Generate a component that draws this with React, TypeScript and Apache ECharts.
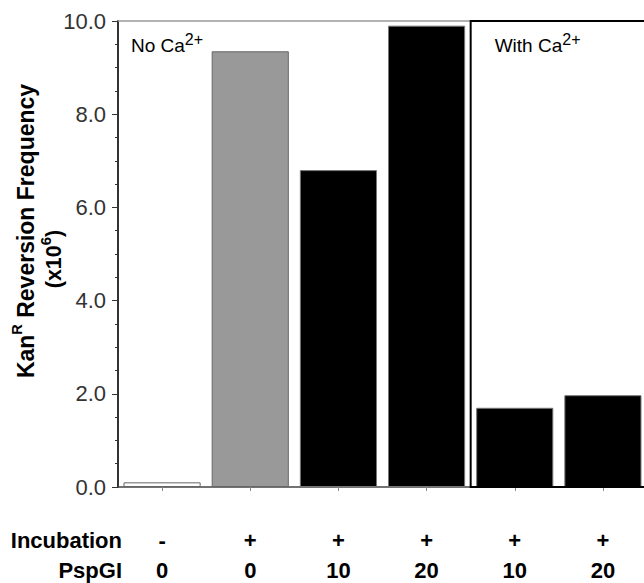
import React, { useEffect, useRef } from "react";
import * as echarts from "echarts";

const categories = ["No incubation", "Incubated", "PspGI 10", "PspGI 20", "PspGI 10 + Ca", "PspGI 20 + Ca"];
const frequency = [0.1, 9.35, 6.8, 9.9, 1.7, 1.97];
const incubationRow = ["-", "+", "+", "+", "+", "+"];
const pspgiRow = ["0", "0", "10", "20", "10", "20"];
const yTicks = [0, 2, 4, 6, 8, 10];
const caStartIndex = 4;

const barFills = ["#ffffff", "#999999", "#000000", "#000000", "#000000", "#000000"];
const FONT = '"Liberation Sans", Arial, Helvetica, sans-serif';

export default function App() {
  const ref = useRef<HTMLDivElement>(null);
  useEffect(() => {
    if (!ref.current) return;
    const chart = echarts.init(ref.current, null, { renderer: "svg" });
    const gridLeft = 118;
    const gridTop = 21;
    const gridHeight = 466;
    const option: any = {
      animation: false,
      backgroundColor: "#ffffff",
      textStyle: { fontFamily: FONT },
      grid: {
        left: gridLeft,
        top: gridTop,
        width: 529,
        height: gridHeight,
        containLabel: false,
        outerBoundsMode: "none",
      },
      xAxis: [
        {
          type: "category",
          data: categories,
          position: "bottom",
          axisLine: { lineStyle: { color: "#444", width: 1.5 } },
          axisTick: { show: true, alignWithLabel: true, length: 4, lineStyle: { color: "#888" } },
          axisLabel: {
            margin: 38,
            interval: 0,
            formatter: (_v: string, i: number) => `{a|${incubationRow[i]}}\n{b|${pspgiRow[i]}}`,
            rich: {
              a: { fontSize: 22, fontWeight: "bold", lineHeight: 30, color: "#000", fontFamily: FONT },
              b: { fontSize: 22, fontWeight: "bold", lineHeight: 30, color: "#000", fontFamily: FONT },
            },
          },
          splitLine: { show: false },
        },
        {
          type: "category",
          data: categories,
          position: "top",
          axisLine: { lineStyle: { color: "#999", width: 1.5 } },
          axisTick: { show: false },
          axisLabel: { show: false },
        },
      ],
      yAxis: {
        type: "value",
        min: yTicks[0],
        max: yTicks[yTicks.length - 1],
        interval: yTicks[1] - yTicks[0],
        axisLine: { show: true, lineStyle: { color: "#333", width: 2 } },
        axisTick: { show: true, length: 6, lineStyle: { color: "#333" } },
        minorTick: { show: true, splitNumber: 4, length: 3, lineStyle: { color: "#333" } },
        splitLine: { show: false },
        axisLabel: {
          margin: 12,
          fontSize: 22,
          color: "#333",
          fontFamily: FONT,
          formatter: (v: number) => v.toFixed(1),
        },
      },
      series: [
        {
          type: "bar",
          xAxisIndex: 0,
          barWidth: "87.5%",
          data: frequency.map((v, i) => ({
            value: v,
            itemStyle: { color: barFills[i], borderColor: i < 2 ? "#666" : "#777", borderWidth: 1 },
          })),
        },
      ],
    };
    chart.setOption(option);

    const p0 = chart.convertToPixel({ gridIndex: 0 }, [caStartIndex - 1, 0]) as number[];
    const p1 = chart.convertToPixel({ gridIndex: 0 }, [caStartIndex, 0]) as number[];
    const pTop = chart.convertToPixel({ gridIndex: 0 }, [caStartIndex, yTicks[yTicks.length - 1]]) as number[];
    const boxX = (p0[0] + p1[0]) / 2;
    const boxTop = pTop[1];
    const boxBottom = p1[1];
    const midY = (boxTop + boxBottom) / 2;

    const labelRich = {
      n: { fontSize: 19, lineHeight: 24, verticalAlign: "bottom", fill: "#000", fontFamily: FONT },
      s: { fontSize: 16, lineHeight: 13, verticalAlign: "top", fill: "#000", fontFamily: FONT },
    };
    const titleRich1 = {
      t: { fontSize: 23, fontWeight: "bold", lineHeight: 28, verticalAlign: "bottom", fill: "#000", fontFamily: FONT },
      s: { fontSize: 14.5, fontWeight: "bold", lineHeight: 21, verticalAlign: "top", fill: "#000", fontFamily: FONT },
    };
    const titleRich2 = {
      t: { fontSize: 21.5, fontWeight: "bold", lineHeight: 27, verticalAlign: "bottom", fill: "#000", fontFamily: FONT },
      s: { fontSize: 15, fontWeight: "bold", lineHeight: 21, verticalAlign: "top", fill: "#000", fontFamily: FONT },
    };

    chart.setOption({
      graphic: [
        {
          type: "rect",
          z: 100,
          shape: { x: boxX, y: boxTop, width: 700 - boxX, height: boxBottom - boxTop },
          style: { fill: "none", stroke: "#000", lineWidth: 2 },
        },
        {
          type: "text",
          z: 100,
          x: gridLeft + 13,
          y: boxTop + 10,
          style: { text: "{n|No Ca}{s|2+}", rich: labelRich, textVerticalAlign: "top" },
        },
        {
          type: "text",
          z: 100,
          x: boxX + 24,
          y: boxTop + 10,
          style: { text: "{n|With Ca}{s|2+}", rich: labelRich, textVerticalAlign: "top" },
        },
        {
          type: "text",
          z: 100,
          x: gridLeft - 95,
          y: midY - 23,
          rotation: Math.PI / 2,
          style: {
            text: "{t|Kan}{s|R}{t| Reversion Frequency}",
            rich: titleRich1,
            textAlign: "center",
            textVerticalAlign: "middle",
          },
        },
        {
          type: "text",
          z: 100,
          x: gridLeft - 67,
          y: midY + 5,
          rotation: Math.PI / 2,
          style: {
            text: "{t|(x10}{s|6}{t|)}",
            rich: titleRich2,
            textAlign: "center",
            textVerticalAlign: "middle",
          },
        },
        {
          type: "text",
          z: 100,
          x: gridLeft + 4,
          y: boxBottom + 53,
          style: { text: "Incubation", fontSize: 22, fontWeight: "bold", fill: "#000", fontFamily: FONT, textAlign: "right", textVerticalAlign: "middle" },
        },
        {
          type: "text",
          z: 100,
          x: gridLeft + 4,
          y: boxBottom + 83,
          style: { text: "PspGI", fontSize: 22, fontWeight: "bold", fill: "#000", fontFamily: FONT, textAlign: "right", textVerticalAlign: "middle" },
        },
      ],
    });

    return () => chart.dispose();
  }, []);

  return (
    <div
      ref={ref}
      style={{ position: "fixed", left: 0, top: 0, width: 644, height: 583, background: "#fff" }}
    />
  );
}
